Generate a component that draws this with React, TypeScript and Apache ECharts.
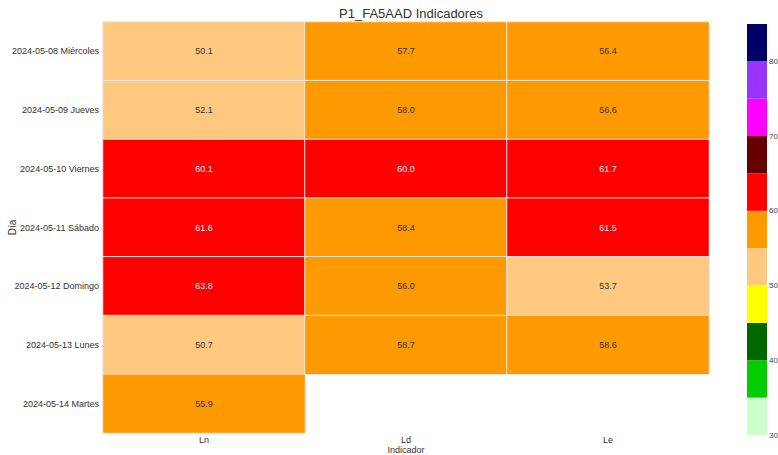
import React, { useEffect, useRef } from "react";
import * as echarts from "echarts";

const days = [
  "2024-05-08 Miércoles",
  "2024-05-09 Jueves",
  "2024-05-10 Viernes",
  "2024-05-11 Sábado",
  "2024-05-12 Domingo",
  "2024-05-13 Lunes",
  "2024-05-14 Martes",
];
const indicators = ["Ln", "Ld", "Le"];
const lnValues = [50.1, 52.1, 60.1, 61.6, 63.8, 50.7, 55.9];
const ldValues = [57.7, 58.0, 60.0, 58.4, 56.0, 58.7, null];
const leValues = [56.4, 56.6, 61.7, 61.5, 53.7, 58.6, null];

const bandEdges = [30, 35, 40, 45, 50, 55, 60, 65, 70, 75, 80, 85];
const bandColors = [
  "#ccffcc",
  "#00cc00",
  "#006600",
  "#ffff00",
  "#ffc880",
  "#ff9900",
  "#ff0000",
  "#660000",
  "#ff00ff",
  "#9933ff",
  "#000066",
];
const colorbarTicks = [30, 40, 50, 60, 70, 80];

export default function App() {
  const ref = useRef<HTMLDivElement>(null);
  useEffect(() => {
    document.body.style.margin = "0";
    const chart = echarts.init(ref.current!, null, { renderer: "svg" });
    const cols = [lnValues, ldValues, leValues];
    const data: any[] = [];
    cols.forEach((col, xi) => {
      col.forEach((v, yi) => {
        if (v === null || v === undefined) return;
        data.push({
          value: [xi, yi, v],
          label: { color: v >= 60 ? "#f0f0f0" : "#333333" },
        });
      });
    });
    const pieces = bandColors.map((c, i) => ({
      gte: bandEdges[i],
      lt: bandEdges[i + 1],
      color: c,
    }));
    const barData = bandColors.map((c, i) => ({
      value: [bandEdges[i], bandEdges[i + 1]],
      itemStyle: { color: c },
    }));
    const font = "Liberation Sans, Arial, sans-serif";
    chart.setOption({
      animation: false,
      textStyle: { fontFamily: font },
      title: {
        text: "P1_FA5AAD Indicadores",
        left: 406,
        top: 2,
        textAlign: "center",
        textStyle: { fontSize: 13, fontWeight: "normal", color: "#333", fontFamily: font },
      },
      grid: [
        { left: 103, right: 69, top: 22, bottom: 22, outerBoundsMode: "none", containLabel: false },
        { left: 747, right: 11, top: 24, bottom: 20, outerBoundsMode: "none", containLabel: false },
      ],
      xAxis: [
        {
          type: "category",
          gridIndex: 0,
          data: indicators,
          position: "bottom",
          axisLine: { show: false },
          axisTick: { show: false },
          axisLabel: { fontSize: 9, color: "#333", margin: 2 },
          name: "Indicador",
          nameLocation: "middle",
          nameGap: 12,
          nameMoveOverlap: false,
          nameTextStyle: { fontSize: 9, color: "#333" },
        },
        {
          type: "value",
          gridIndex: 1,
          min: 0,
          max: 1,
          show: false,
        },
      ],
      yAxis: [
        {
          type: "category",
          gridIndex: 0,
          data: days,
          inverse: true,
          axisLine: { show: false },
          axisTick: { show: false },
          axisLabel: { fontSize: 9, color: "#333", margin: 4 },
          name: "Día",
          nameLocation: "middle",
          nameGap: 86,
          nameMoveOverlap: false,
          nameRotate: 90,
          nameTextStyle: { fontSize: 10, color: "#333" },
        },
        {
          type: "value",
          gridIndex: 1,
          position: "right",
          min: 30,
          max: 85,
          interval: 10,
          splitLine: { show: false },
          axisLine: { show: false },
          axisTick: { show: false },
          axisLabel: {
            fontSize: 8,
            color: "#444",
            margin: 2,
            showMaxLabel: false,
            formatter: (v: number) => (colorbarTicks.includes(v) ? String(v) : ""),
          },
        },
      ],
      visualMap: {
        type: "piecewise",
        show: false,
        seriesIndex: 0,
        dimension: 2,
        pieces,
      },
      series: [
        {
          type: "heatmap",
          xAxisIndex: 0,
          yAxisIndex: 0,
          data,
          itemStyle: { borderColor: "#e6e6e6", borderWidth: 1 },
          label: {
            show: true,
            fontSize: 9,
            fontFamily: font,
            formatter: (p: any) => Number(p.value[2]).toFixed(1),
          },
          emphasis: { disabled: true },
        },
        {
          type: "custom",
          xAxisIndex: 1,
          yAxisIndex: 1,
          data: barData,
          encode: { y: [0, 1] },
          renderItem: (params: any, api: any) => {
            const lo = api.value(0);
            const hi = api.value(1);
            const p0 = api.coord([0, lo]);
            const p1 = api.coord([1, hi]);
            return {
              type: "rect",
              shape: { x: p0[0], y: p1[1], width: p1[0] - p0[0], height: p0[1] - p1[1] },
              style: { fill: api.visual("color") },
            };
          },
        },
      ],
    });
    return () => chart.dispose();
  }, []);
  return <div ref={ref} style={{ width: 778, height: 455 }} />;
}
